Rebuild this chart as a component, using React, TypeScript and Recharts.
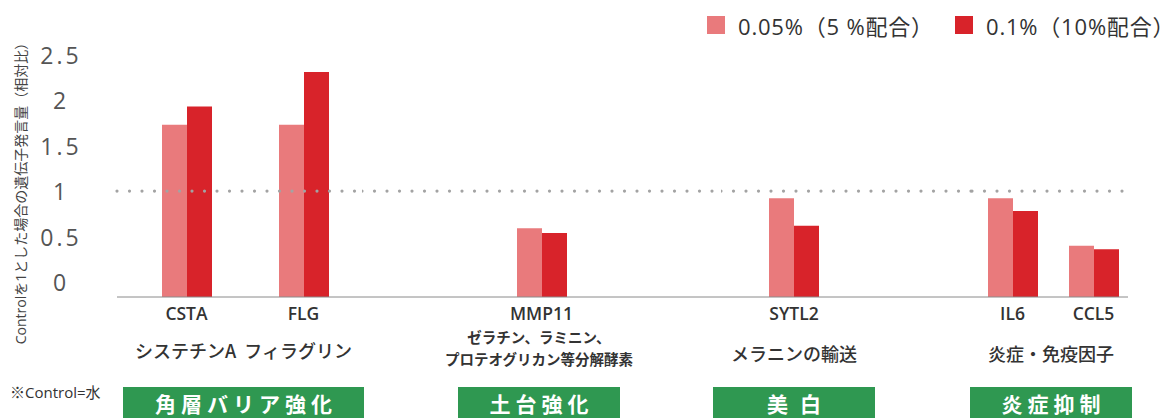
import { BarChart, Bar, XAxis, YAxis, ReferenceLine } from 'recharts';

// 遺伝子と発現量（Control=1 の相対比）
const genes = ['CSTA', 'FLG', 'MMP11', 'SYTL2', 'IL6', 'CCL5'];
const low = [1.73, 1.73, 0.59, 0.92, 0.92, 0.4]; // 0.05%（5%配合）
const high = [1.93, 2.31, 0.54, 0.62, 0.78, 0.36]; // 0.1%（10%配合）
const seriesNames = ['0.05%（5 %配合）', '0.1%（10%配合）'];

const groupNames = ['角層バリア強化', '土台強化', '美白', '炎症抑制'];
const groupGenes = [['CSTA', 'FLG'], ['MMP11'], ['SYTL2'], ['IL6', 'CCL5']];
const groupNotes = [
  'システチンA  フィラグリン',
  'ゼラチン、ラミニン、\nプロテオグリカン等分解酵素',
  'メラニンの輸送',
  '炎症・免疫因子',
];

const yTicks = [0, 0.5, 1, 1.5, 2, 2.5];
const Y_MIN = -0.165; // the axis line sits a little below 0 in the original
const Y_MAX = 2.75;

const PINK = '#e97a7c';
const RED = '#d8232a';
const GREEN = '#2f9851';
const LATIN = "'Open Sans', 'Noto Sans CJK JP', sans-serif";
const JP = "'Noto Sans CJK JP', sans-serif";

// layout of each group panel (px)
const panels = [
  { left: 0, width: 362, padL: 11, padR: 0, box: [123, 241], noteTop: 338 },
  { left: 362, width: 359, padL: 0, padR: 0, box: [458, 162], noteTop: 326 },
  { left: 721, width: 251, padL: 0, padR: 105, box: [713, 162], noteTop: 341 },
  { left: 972, width: 156, padL: 0, padR: -6, box: [970, 162], noteTop: 341 },
];

const CHART_H = 330;

function YTick({ y, payload }: any) {
  return (
    <text x={61} y={y} textAnchor="middle" dominantBaseline="central"
      fontSize={23} letterSpacing={3} fill="#555" fontFamily={LATIN}>
      {payload.value}
    </text>
  );
}

function GeneTick({ x, y, payload }: any) {
  return (
    <text x={x} y={y + 8} textAnchor="middle" dominantBaseline="central"
      fontSize={17.5} fontWeight={600} fill="#333" fontFamily={LATIN}>
      {payload.value}
    </text>
  );
}

function Panel({ index }: { index: number }) {
  const p = panels[index];
  const rows = groupGenes[index].map((g) => {
    const i = genes.indexOf(g);
    return { gene: g, low: [Y_MIN, low[i]], high: [Y_MIN, high[i]] };
  });
  const first = index === 0;
  return (
    <div style={{ position: 'absolute', left: p.left, top: 0 }}>
      <BarChart width={p.width} height={CHART_H} data={rows} barGap={0}
        margin={{ top: 32, right: 0, bottom: 0, left: 0 }}>
        <XAxis dataKey="gene" height={33} tickLine={false}
          axisLine={{ stroke: '#8a8a8a' }} padding={{ left: p.padL, right: p.padR }}
          tick={<GeneTick />} interval={0} />
        <YAxis hide={!first} width={117} domain={[Y_MIN, Y_MAX]} ticks={yTicks}
          allowDataOverflow axisLine={false} tickLine={false} tick={<YTick />} />
        <ReferenceLine y={1} stroke="#a3a3a3" strokeWidth={3.2}
          strokeDasharray="0 12.5" strokeLinecap="round" />
        <Bar dataKey="low" name={seriesNames[0]} fill={PINK} barSize={25} isAnimationActive={false} />
        <Bar dataKey="high" name={seriesNames[1]} fill={RED} barSize={25} isAnimationActive={false} />
      </BarChart>
    </div>
  );
}

export default function App() {
  return (
    <div style={{ position: 'absolute', left: 0, top: 0, width: 1174, height: 420, background: '#fff', overflow: 'hidden', fontFamily: JP }}>
      {/* legend */}
      {seriesNames.map((name, i) => (
        <div key={name} style={{ position: 'absolute', top: 11, left: i === 0 ? 707 : 955, display: 'flex', alignItems: 'center', height: 28 }}>
          <div style={{ width: 18, height: 18, background: i === 0 ? PINK : RED, marginRight: 13 }} />
          <span style={{ fontSize: 22, letterSpacing: 0.8, color: '#333', fontFamily: LATIN, whiteSpace: 'nowrap' }}>{name}</span>
        </div>
      ))}

      {/* y-axis title */}
      <div style={{ position: 'absolute', left: 20, top: 190, transform: 'translate(-50%, -50%) rotate(-90deg)', whiteSpace: 'nowrap', fontSize: 14, color: '#444', fontFamily: LATIN }}>
        Controlを1とした場合の遺伝子発言量（相対比）
      </div>

      {panels.map((_, i) => <Panel key={i} index={i} />)}

      {/* group notes and category boxes */}
      {panels.map((p, i) => {
        const cx = p.box[0] + p.box[1] / 2;
        const multi = groupNotes[i].includes('\n');
        const spacing = i === 2 ? 12 : 5;
        return (
          <div key={'g' + i}>
            <div style={{ position: 'absolute', left: cx - 200, width: 400, top: p.noteTop, textAlign: 'center', whiteSpace: 'pre-wrap', color: '#333', fontSize: multi ? 14.5 : 18, fontWeight: multi ? 700 : 500, lineHeight: multi ? '22px' : '24px' }}>
              {groupNotes[i]}
            </div>
            <div style={{ position: 'absolute', left: p.box[0], width: p.box[1], top: 387, height: 31, background: GREEN, color: '#fff', fontSize: 21, fontWeight: 700, letterSpacing: spacing, display: 'flex', alignItems: 'center', justifyContent: 'center', paddingLeft: spacing, boxSizing: 'border-box' }}>
              {groupNames[i]}
            </div>
          </div>
        );
      })}

      <div style={{ position: 'absolute', left: 10, top: 381, fontSize: 15, color: '#333', fontFamily: LATIN }}>※Control=水</div>
    </div>
  );
}
